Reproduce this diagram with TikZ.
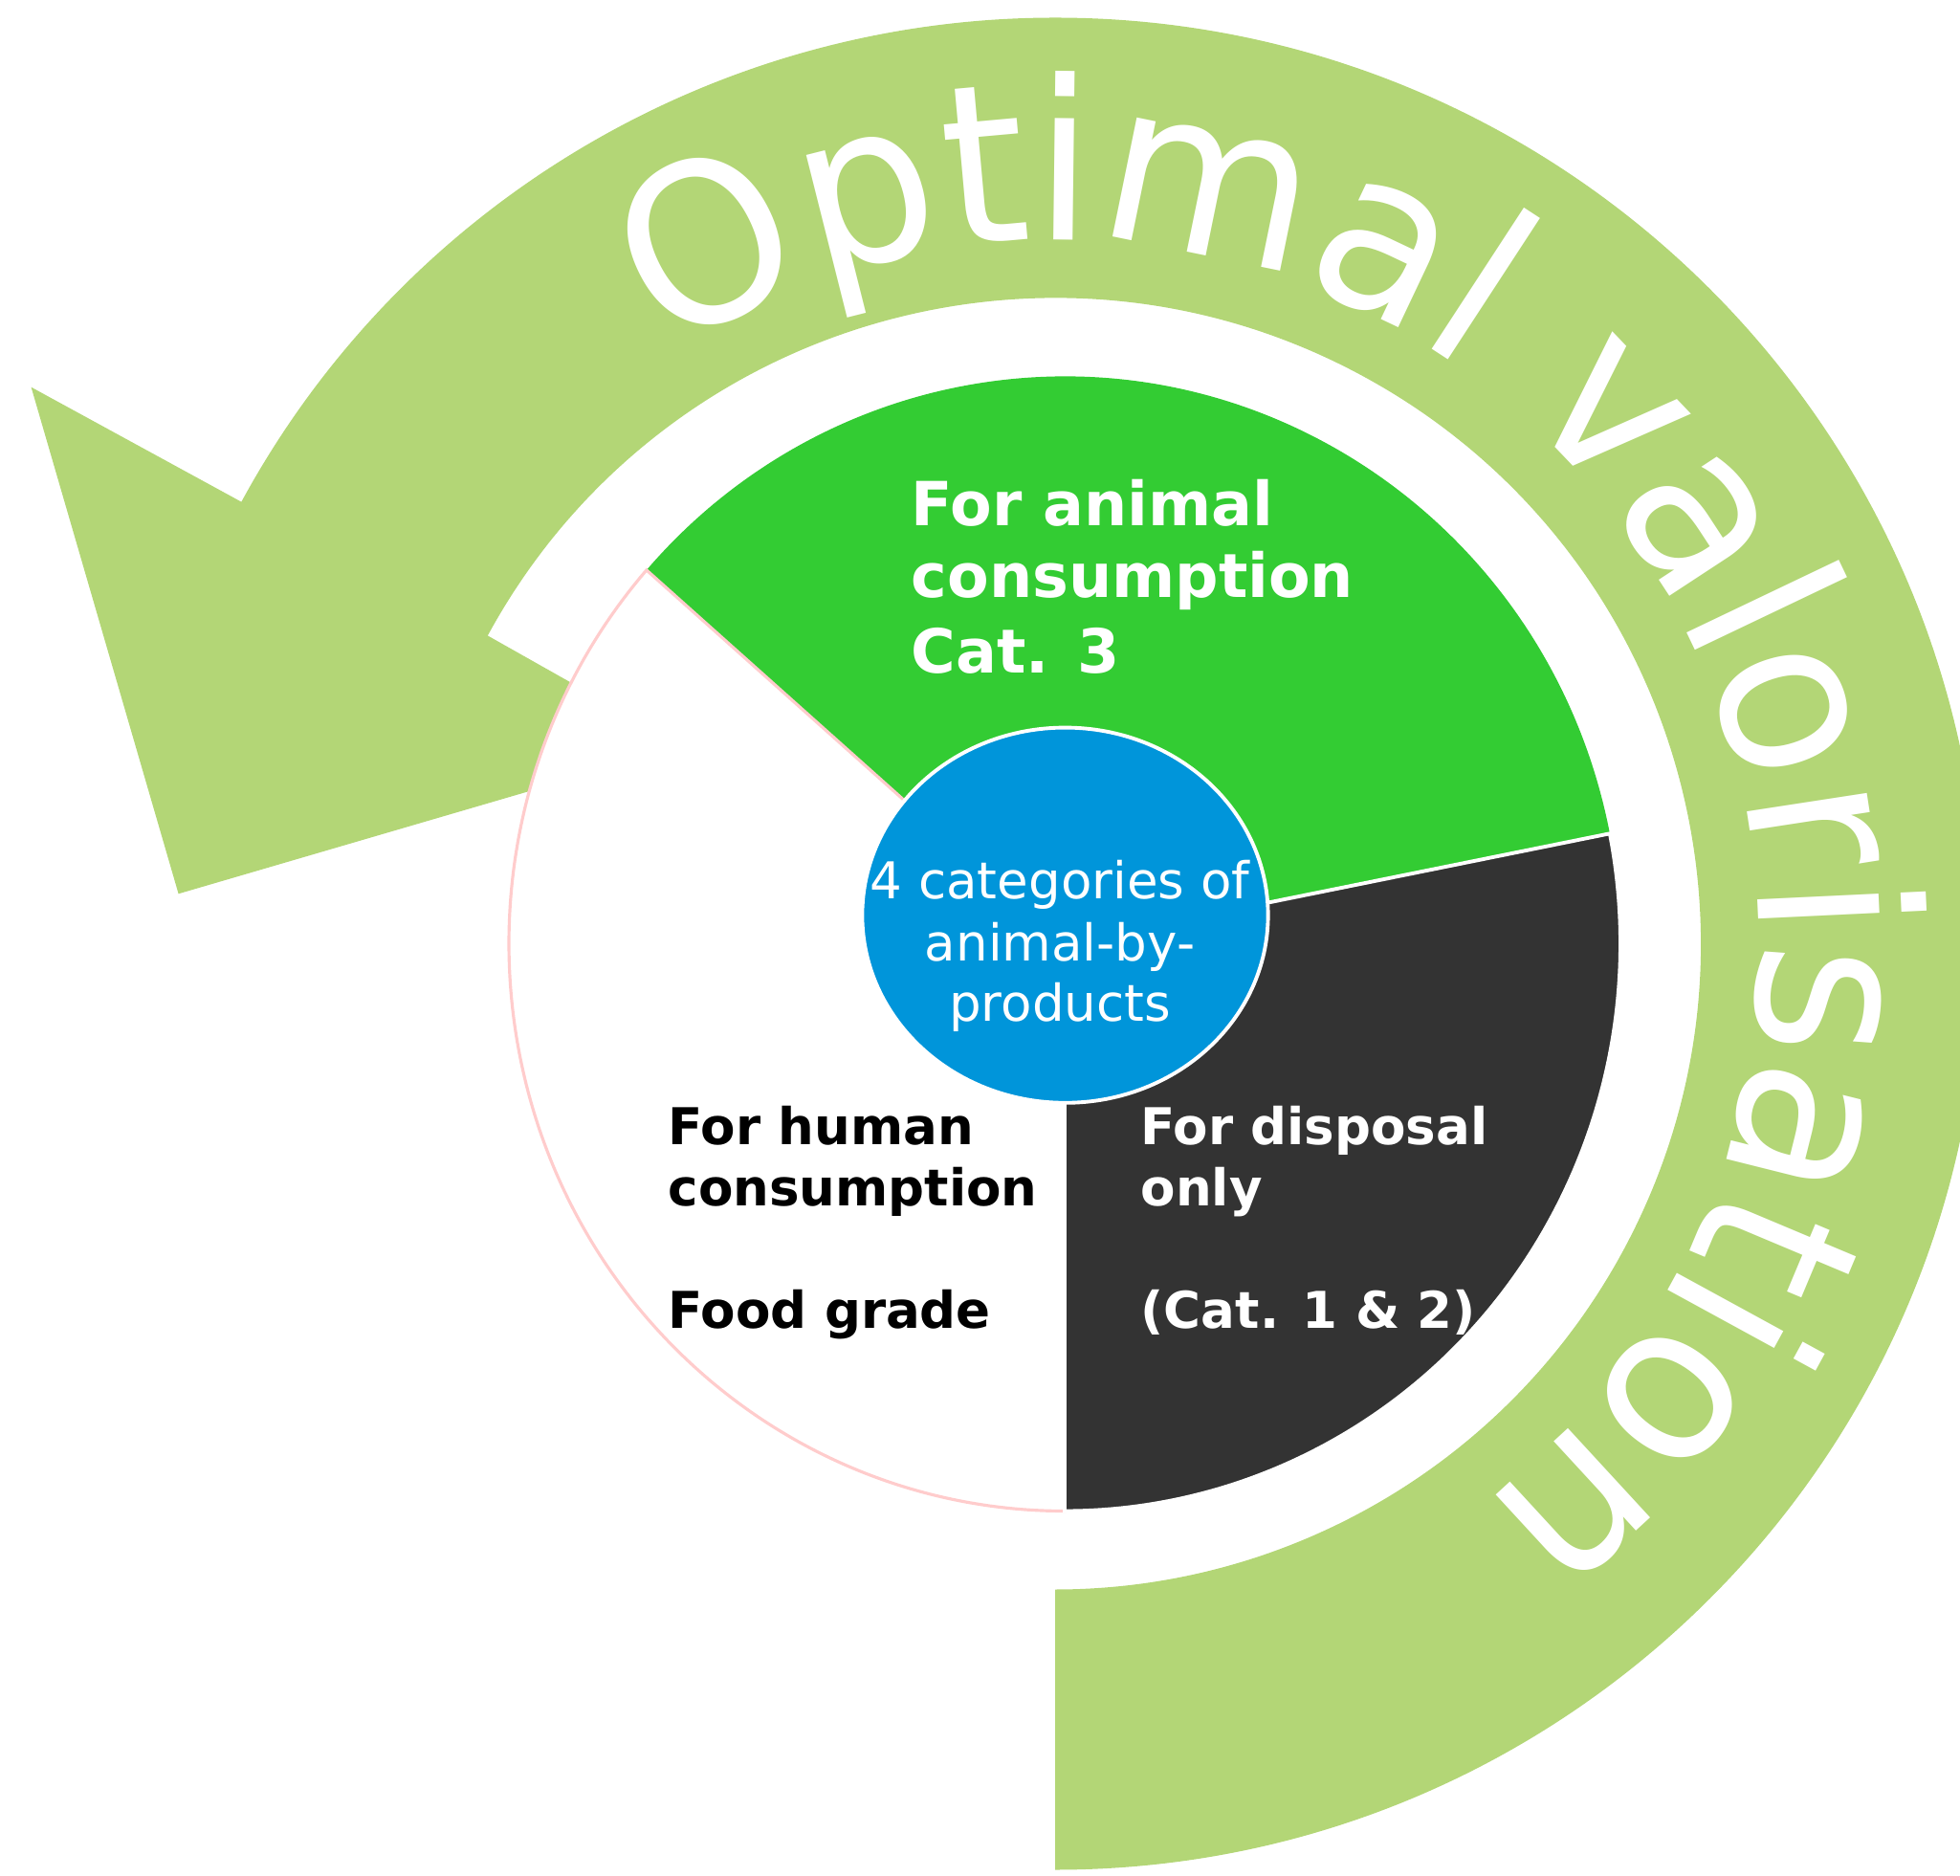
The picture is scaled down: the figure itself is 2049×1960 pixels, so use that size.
\documentclass[tikz,border=0pt]{standalone}
\usepackage{fontspec}
\setmainfont{DejaVu Sans}
\newfontfamily\ringfont[FakeStretch=0.965]{DejaVu Sans}
\usetikzlibrary{calc,decorations.text,shapes.geometric}
\definecolor{ringgreen}{RGB}{179,214,118}
\definecolor{catgreen}{RGB}{51,204,51}
\definecolor{catdark}{RGB}{51,51,51}
\definecolor{catblue}{RGB}{0,149,218}
\definecolor{catpink}{RGB}{255,204,204}
\newcommand\ringfmt{\ringfont\fontsize{66}{70}\selectfont}
\begin{document}
\begin{tikzpicture}[x=0.01cm,y=0.01cm,
  boldlbl/.style={inner sep=0pt, anchor=base west, font=\bfseries\fontsize{15.08}{18}\selectfont},
  biglbl/.style={inner sep=0pt, anchor=base west, text=white, font=\bfseries\fontsize{18.07}{21}\selectfont},
  ctrlbl/.style={inner sep=0pt, anchor=base, text=white, font=\fontsize{15.08}{18}\selectfont},
  core/.style={ellipse, fill=catblue, draw=white, line width=1.1pt, inner sep=0pt,
    minimum width=4.24cm, minimum height=3.92cm}]
\useasboundingbox (0,0) rectangle (2049,1960);
\clip (0,0) rectangle (2049,1960);
\coordinate (R) at (1103,973.5);
\coordinate (P) at (1113,973.5);
% ring arrow
\fill[ringgreen] ($(R)+(-90:968)$) arc[start angle=-90,end angle=151.5,radius=968]
  -- (32.6,1555.3) -- (186.6,1025.7) -- (714.5,1180.1)
  -- ($(R)+(151.5:675)$) arc[start angle=151.5,end angle=-90,radius=675] -- cycle;
% ring text
\path[decorate, decoration={text along path, text={|\ringfmt|Optimal valorisation},
  text align=center, text color=white}]
  ($(R)+(124.3:736)$) arc[start angle=124.3,end angle=-53.7,radius=736];
% pie slices
\fill[catgreen] (P) -- ($(P)+(11.2:581 and 593)$)
  arc[start angle=11.2,end angle=138.8,x radius=581,y radius=593] -- cycle;
\filldraw[fill=white, draw=catpink, line width=0.9pt] (P) -- ($(P)+(138.8:581 and 593)$)
  arc[start angle=138.8,end angle=270,x radius=581,y radius=593] -- cycle;
\filldraw[fill=catdark, draw=white, line width=1.1pt, shift={(6,-3)}] (P) -- ($(P)+(-90:581 and 593)$)
  arc[start angle=-90,end angle=11.2,x radius=581,y radius=593] -- cycle;
% centre
\node[core] (core) at (1113.5,1003.3) {};
\node[ctrlbl] (c1) at (1108,1020) {4 categories of};
\node[ctrlbl] (c2) at (1108,955.7) {animal-by-};
\node[ctrlbl] (c3) at (1108,892.3) {products};
% labels
\node[biglbl] (g1) at (952,1410) {For animal};
\node[biglbl] (g2) at (952,1335) {consumption};
\node[biglbl] (g3) at (952,1256.7) {Cat. 3};
\node[boldlbl, text=black] (h1) at (698,763.3) {For human};
\node[boldlbl, text=black] (h2) at (698,699.3) {consumption};
\node[boldlbl, text=black] (h3) at (698,571.7) {Food grade};
\node[boldlbl, text=white] (d1) at (1192,763.3) {For disposal};
\node[boldlbl, text=white] (d2) at (1192,699.3) {only};
\node[boldlbl, text=white] (d3) at (1192,571.7) {(Cat. 1 \& 2)};
\end{tikzpicture}
\end{document}
